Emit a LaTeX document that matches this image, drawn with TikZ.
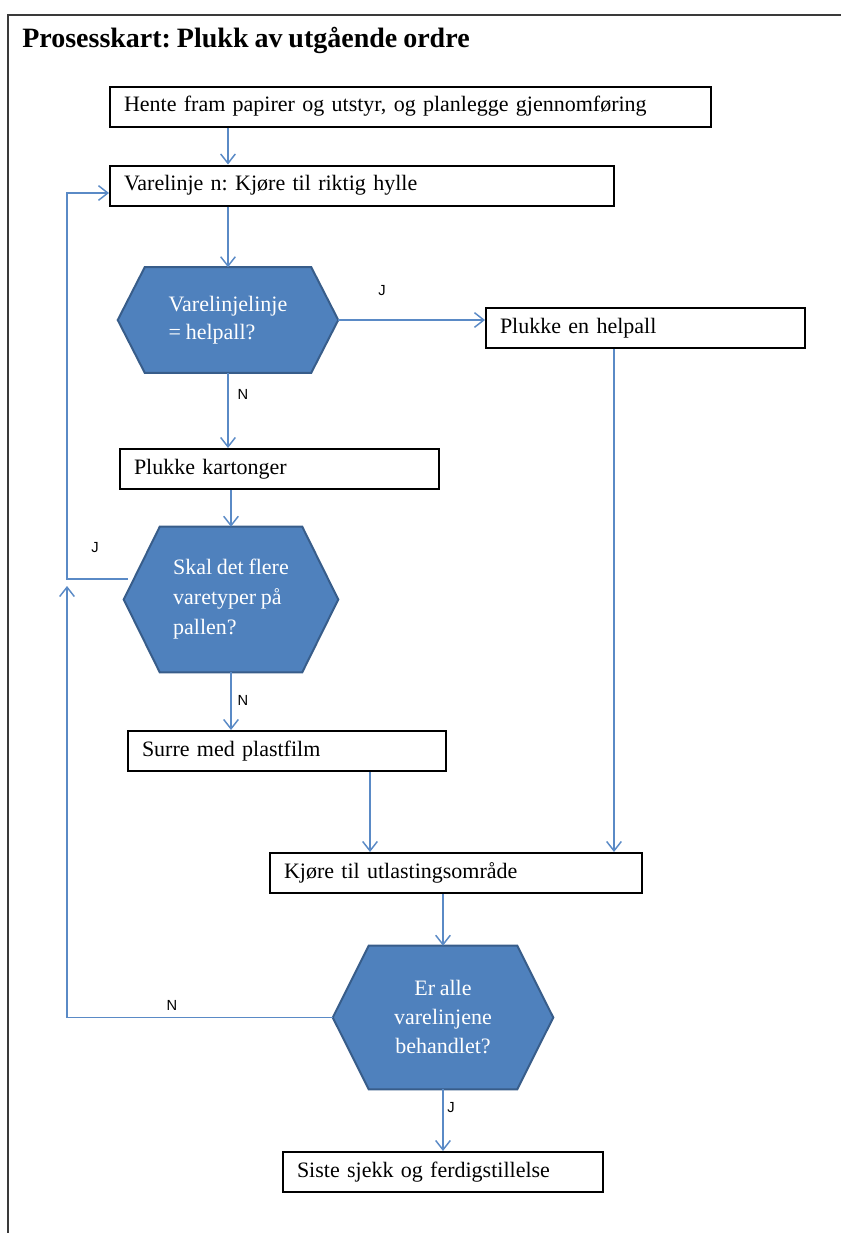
\documentclass[tikz,border=0pt]{standalone}
\usepackage{fontspec}
\setmainfont{Liberation Serif}[WordSpace=0.85]
\newfontfamily\labelfont{Liberation Sans}
\usetikzlibrary{arrows.meta,calc,backgrounds}
\definecolor{hexblue}{HTML}{4F81BD}
\definecolor{hexedge}{HTML}{385D8A}
\definecolor{flowblue}{HTML}{5A8AC6}
\definecolor{framegray}{HTML}{3A3A3A}
\frenchspacing

% hexagonal decision outline drawn round a named node: #1 node, #2 corner cut
\newcommand\hexoutline[2]{%
  \path[fill=hexblue, draw=hexedge, line width=1.5pt, line join=miter]
    (#1.west) -- ([xshift=#2]#1.north west) -- ([xshift=-#2]#1.north east)
    -- (#1.east) -- ([xshift=-#2]#1.south east) -- ([xshift=#2]#1.south west) -- cycle;}

\begin{document}
\begin{tikzpicture}[x=0.75pt,y=-0.75pt,
  stepbox/.style={draw=black, line width=1.5pt, fill=white, rectangle,
    inner xsep=10.5pt, inner ysep=0pt, minimum height=30pt, align=left,
    font=\fontsize{16.5}{19}\selectfont},
  decision/.style={inner sep=0pt, text=white},
  flow/.style={draw=flowblue, line width=1.1pt, -{Straight Barb[length=7pt,width=11pt]}},
  answer/.style={font=\labelfont\fontsize{11}{13}\selectfont, inner sep=0pt}
]
\useasboundingbox (0,0) rectangle (841,1233);

% page frame
\draw[framegray, line width=1.5pt] (8,1233) -- (8,15) -- (841,15);

% heading
\node[anchor=base west, inner sep=0pt, font=\bfseries\fontsize{21}{24}\selectfont]
  (title) at (22,47) {Prosesskart: Plukk av utgående ordre};

% process steps
\node[stepbox, text width=429.75pt] (b1) at (410.5,106.5) {Hente fram papirer og utstyr, og planlegge gjennomføring};
\node[stepbox, text width=357pt]    (b2) at (362,185.5) {Varelinje n: Kjøre til riktig hylle};
\node[stepbox, text width=218.25pt] (b3) at (645.5,328) {Plukke en helpall};
\node[stepbox, text width=218.25pt] (b4) at (279.5,469) {Plukke kartonger};
\node[stepbox, text width=217.5pt]  (b5) at (287,751) {Surre med plastfilm};
\node[stepbox, text width=258pt]    (b6) at (456,873) {Kjøre til utlastingsområde};
\node[stepbox, text width=219pt]    (b7) at (443,1172) {Siste sjekk og ferdigstillelse};

% decisions
\node[decision, minimum width=165pt, minimum height=78.75pt, align=left,
  font=\fontsize{16.5}{21}\selectfont] (h1) at (228,320) {Varelinjelinje\\= helpall?};
\node[decision, minimum width=160.5pt, minimum height=108.75pt, align=left,
  font=\fontsize{16.5}{22.5}\selectfont] (h2) at (231,599.5) {Skal det flere\\varetyper på\\pallen?};
\node[decision, minimum width=165pt, minimum height=107.25pt, align=center,
  font=\fontsize{16.5}{21.75}\selectfont] (h3) at (443,1017.5) {Er alle\\varelinjene\\behandlet?};

\begin{scope}[on background layer]
  \hexoutline{h1}{20.25pt}
  \hexoutline{h2}{27pt}
  \hexoutline{h3}{27pt}
\end{scope}

% loop-back helpers on the left side
\coordinate (lt) at (67,193);
\coordinate (lj) at (67,579);
\coordinate (lup) at (67,586);
\coordinate (j2) at (128,579);
% drop points under the two upper branches
\coordinate (s5) at ($(b5.south)+(83,0)$);
\coordinate (s3) at ($(b3.south)+(-31.5,0)$);

% connectors
\draw[flow] (b1.south -| h1.north) -- (b2.north -| h1.north);
\draw[flow] (b2.south -| h1.north) -- (h1.north);
\draw[flow] (h1.east) -- (h1.east -| b3.west);
\draw[flow] (h1.south) -- (h1.south |- b4.north);
\draw[flow] (b4.south -| h2.north) -- (h2.north);
\draw[flow] (h2.south) -- (h2.south |- b5.north);
\draw[flow] (s5) -- (s5 |- b6.north);
\draw[flow] (s3) -- (s3 |- b6.north);
\draw[flow] (b6.south -| h3.north) -- (h3.north);
\draw[flow] (h3.south) -- (h3.south |- b7.north);
\draw[flow] (j2) -- (lj) -- (lt) -- (lt -| b2.west);
\draw[flow] (h3.west) -| (lup);

% answer labels
\node[answer] (a1) at (382,291) {J};
\node[answer] (a2) at (243,394) {N};
\node[answer] (a3) at (95,548) {J};
\node[answer] (a4) at (243,700) {N};
\node[answer] (a5) at (172,1005) {N};
\node[answer] (a6) at (451,1108) {J};
\end{tikzpicture}
\end{document}
